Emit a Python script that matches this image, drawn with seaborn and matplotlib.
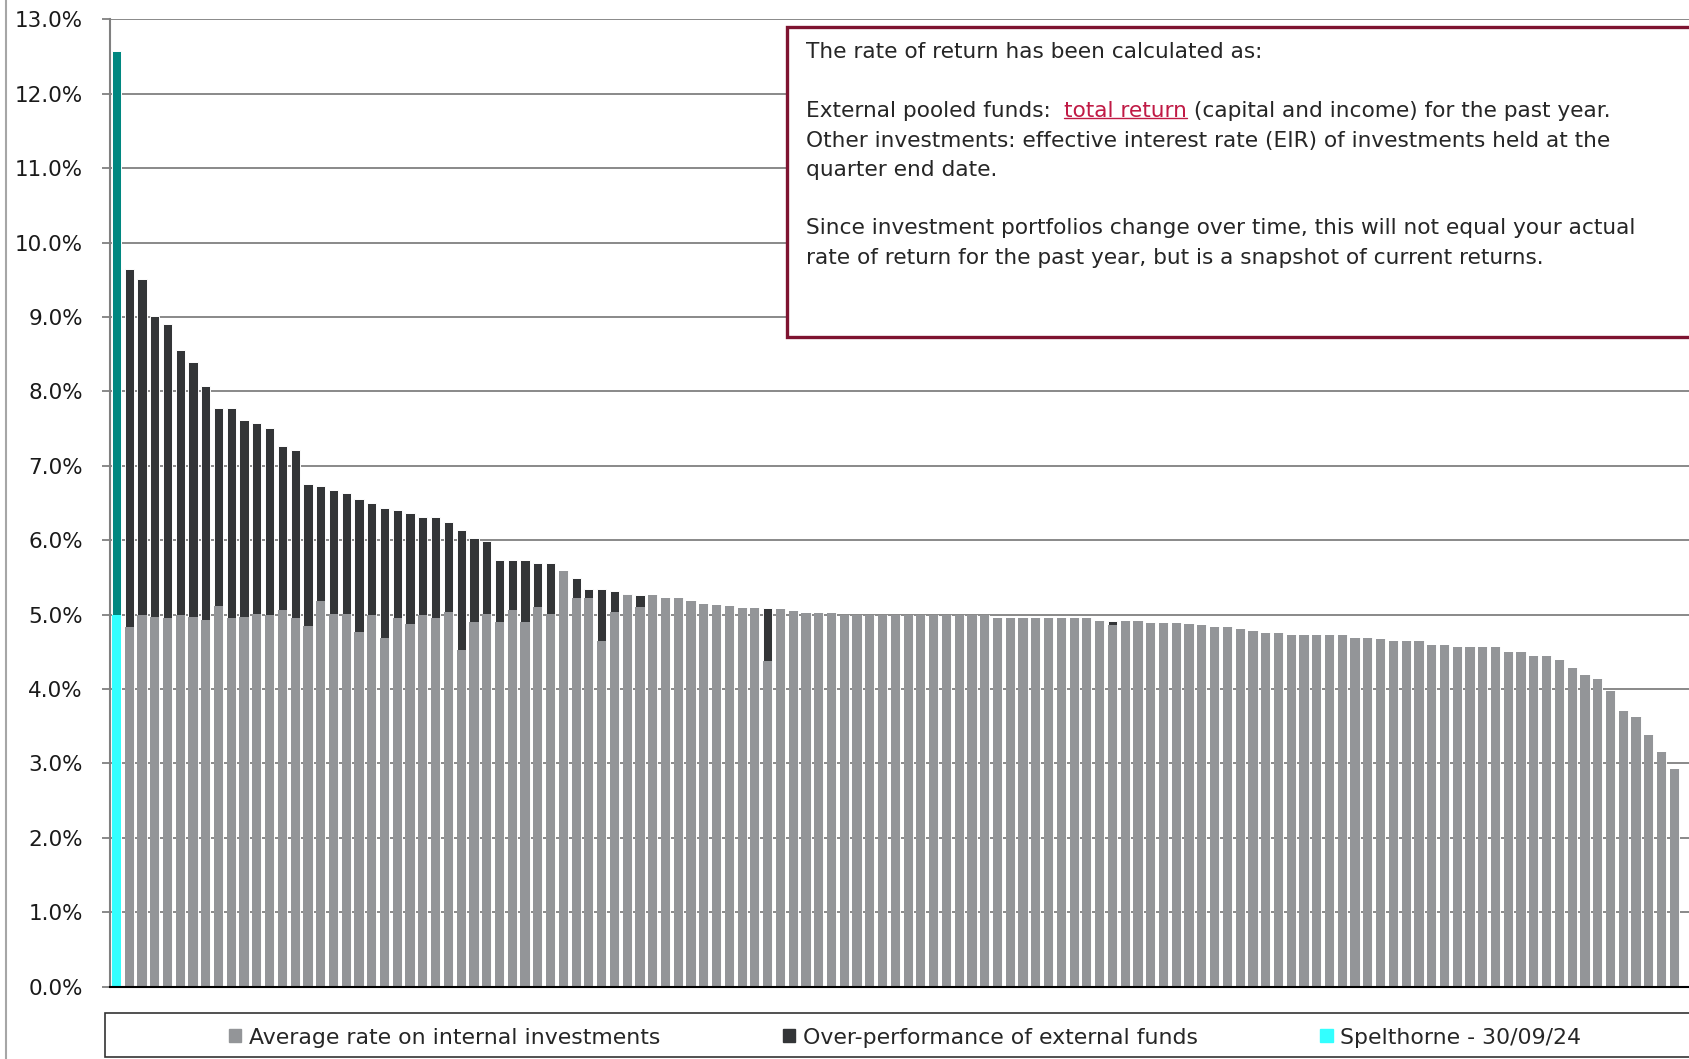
import matplotlib
matplotlib.use("Agg")
import matplotlib.pyplot as plt
from matplotlib.patches import Patch, Rectangle
from matplotlib.lines import Line2D
import numpy as np
import pandas as pd
import seaborn as sns

# Spelthorne figures
spelthorne_label = "Spelthorne - 30/09/24"
spelthorne_internal = 5.00
spelthorne_excess = 7.57

# Peer authorities, sorted by total rate (%)
internal_rate = [
    4.83, 4.99, 4.97, 4.96, 4.99, 4.97, 4.93, 5.11, 4.96, 4.97,
    5.01, 4.99, 5.06, 4.95, 4.85, 5.19, 5.01, 5.01, 4.77, 4.99,
    4.69, 4.95, 4.87, 4.99, 4.95, 5.04, 4.53, 4.90, 5.01, 4.90,
    5.06, 4.90, 5.10, 5.01, 5.59, 5.22, 5.23, 4.64, 5.04, 5.26,
    5.10, 5.26, 5.23, 5.23, 5.18, 5.15, 5.13, 5.12, 5.09, 5.09,
    4.38, 5.07, 5.05, 5.02, 5.02, 5.02, 5.00, 5.00, 5.00, 5.00,
    5.00, 5.00, 5.00, 5.00, 5.00, 5.00, 5.00, 5.00, 4.96, 4.96,
    4.96, 4.95, 4.95, 4.95, 4.95, 4.95, 4.92, 4.86, 4.91, 4.91,
    4.89, 4.89, 4.89, 4.87, 4.86, 4.84, 4.84, 4.81, 4.78, 4.76,
    4.75, 4.73, 4.73, 4.73, 4.72, 4.72, 4.69, 4.69, 4.67, 4.64,
    4.64, 4.64, 4.59, 4.59, 4.57, 4.57, 4.56, 4.56, 4.50, 4.50,
    4.44, 4.44, 4.39, 4.28, 4.19, 4.14, 3.97, 3.70, 3.63, 3.38,
    3.15, 2.92,
]
external_excess = [
    4.81, 4.52, 4.05, 3.94, 3.57, 3.43, 3.14, 2.67, 2.82, 2.64,
    2.56, 2.52, 2.21, 2.26, 1.90, 1.54, 1.67, 1.63, 1.78, 1.51,
    1.75, 1.46, 1.49, 1.32, 1.36, 1.20, 1.61, 1.13, 0.98, 0.84,
    0.68, 0.83, 0.59, 0.68, 0.00, 0.27, 0.12, 0.71, 0.28, 0.02,
    0.17, 0.00, 0.00, 0.00, 0.00, 0.00, 0.00, 0.00, 0.00, 0.00,
    0.71, 0.00, 0.00, 0.00, 0.00, 0.00, 0.00, 0.00, 0.00, 0.00,
    0.00, 0.00, 0.00, 0.00, 0.00, 0.00, 0.00, 0.00, 0.00, 0.00,
    0.00, 0.00, 0.00, 0.00, 0.00, 0.00, 0.00, 0.06, 0.00, 0.00,
] + [0.00] * 42

legend_labels = ["Average rate on internal investments",
                 "Over-performance of external funds",
                 spelthorne_label]
y_ticks = list(range(0, 14))

note_lines = [
    "The rate of return has been calculated as:",
    "",
    "External pooled funds:  ",
    "Other investments: effective interest rate (EIR) of investments held at the",
    "quarter end date.",
    "",
    "Since investment portfolios change over time, this will not equal your actual",
    "rate of return for the past year, but is a snapshot of current returns.",
]
link_text = "total return"
link_tail = " (capital and income) for the past year."

# colours
c_internal = "#939598"
c_excess = "#333537"
c_spel_low = "#33FFFF"
c_spel_high = "#008780"
c_box = "#7E1431"
c_link = "#C01A45"

df = pd.DataFrame({
    "internal": [spelthorne_internal] + internal_rate,
    "excess": [spelthorne_excess] + external_excess,
    "who": ["Spelthorne"] + ["Peer"] * len(internal_rate),
})
df["pos"] = np.arange(len(df))
df["total"] = df["internal"] + df["excess"]

sns.set_style("white")
plt.rcParams["font.family"] = ["DejaVu Sans"]

W, H = 1689, 1059
fig = plt.figure(figsize=(W / 100, H / 100), dpi=100)
ax = fig.add_axes([110 / W, 1 - 986.7 / H, 1 - 110 / W, (986.7 - 19.4) / H])

# total first (dark part), internal drawn over it
sns.barplot(data=df, x="pos", y="total", hue="who",
            palette={"Peer": c_excess, "Spelthorne": c_spel_high},
            dodge=False, width=0.72, legend=False, ax=ax, saturation=1,
            edgecolor="white", linewidth=0.7)
sns.barplot(data=df, x="pos", y="internal", hue="who",
            palette={"Peer": c_internal, "Spelthorne": c_spel_low},
            dodge=False, width=0.72, legend=False, ax=ax, saturation=1,
            linewidth=0)

ax.set_xlim(-0.5, 123.15)
ax.set_ylim(0, 13)
ax.set_yticks(y_ticks)
ax.set_yticklabels([f"{v:.1f}%" for v in y_ticks], fontsize=15.5, color="#1a1a1a")
ax.set_xticks([])
ax.set_xlabel("")
ax.set_ylabel("")
ax.yaxis.grid(True, color="#808080", linewidth=1.3)
ax.set_axisbelow(True)
ax.tick_params(axis="y", length=6, width=1.3, color="#808080", pad=13.5, left=True)
for s in ["top", "right"]:
    ax.spines[s].set_visible(False)
ax.spines["left"].set_color("#808080")
ax.spines["left"].set_linewidth(1.5)
ax.spines["bottom"].set_color("black")
ax.spines["bottom"].set_linewidth(1.5)

# outer chart border on the left
fig.add_artist(Line2D([6 / W, 6 / W], [0, 1], color="#A6A6A6", lw=1.5))

# note box
fig.add_artist(Rectangle((787 / W, 1 - 337 / H), (910 / W), 310 / H,
                         facecolor="white", edgecolor=c_box, lw=2.4, zorder=3))
tx = 806 / W
fs_note = 15.6
line_y = [52.5, 81.6, 110.7, 140.8, 169.9, 199.0, 228.1, 258.2]
note_texts = []
for s, yp in zip(note_lines, line_y):
    note_texts.append(fig.text(tx, 1 - yp / H, s, fontsize=fs_note, va="center", zorder=4))
t1 = note_texts[2]

# link part and the rest of that line, placed after measuring
fig.canvas.draw()
inv = fig.transFigure.inverted()
bb1 = t1.get_window_extent()
x_link = inv.transform((bb1.x1, 0))[0]
t2 = fig.text(x_link, 1 - line_y[2] / H, link_text, fontsize=fs_note, va="center",
              color=c_link, zorder=4)
fig.canvas.draw()
bb2 = t2.get_window_extent()
x_tail = inv.transform((bb2.x1, 0))[0]
fig.text(x_tail, 1 - line_y[2] / H, link_tail, fontsize=fs_note, va="center", zorder=4)
(ux0, uy), (ux1, _) = inv.transform([(bb2.x0, bb2.y0 + 3), (bb2.x1, bb2.y0 + 3)])
fig.add_artist(Line2D([ux0, ux1], [uy, uy], color=c_link, lw=1.0, zorder=5))

# legend box
fig.add_artist(Rectangle((105 / W, 1 - 1057 / H), 1600 / W, 44 / H,
                         facecolor="white", edgecolor="#333333", lw=1.2, zorder=3))
handles = [Patch(color=c_internal), Patch(color=c_excess), Patch(color=c_spel_low)]
leg = fig.legend(handles, legend_labels, loc="center", bbox_to_anchor=(905 / W, 1 - 1037.5 / H),
                 ncol=3, frameon=False, fontsize=15.8, handlelength=0.55, handleheight=0.55,
                 handletextpad=0.35, columnspacing=5.6)
leg.set_zorder(4)

fig.savefig("out.png", dpi=100)
